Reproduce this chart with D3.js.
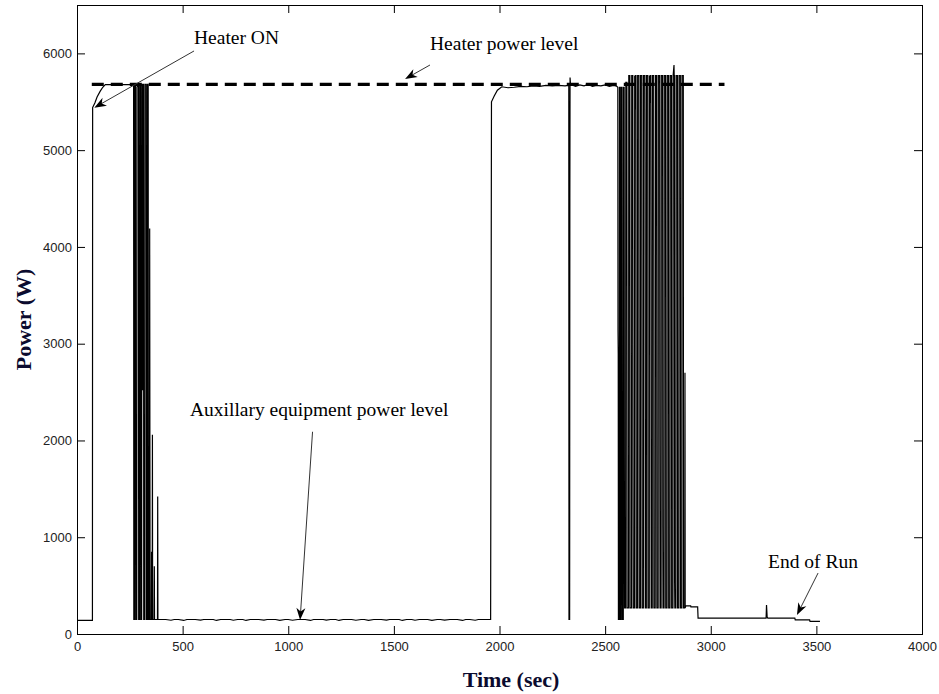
<!DOCTYPE html>
<html><head><meta charset="utf-8">
<script src="https://cdn.jsdelivr.net/npm/d3@7"></script>
<style>body{margin:0;background:#fff}svg{display:block}</style>
</head><body>
<svg id="chart" width="939" height="694"></svg>
<script>
// ---------- DATA ----------
const xTicks = [0,500,1000,1500,2000,2500,3000,3500,4000];
const yTicks = [0,1000,2000,3000,4000,5000,6000];
const xLabel = "Time (sec)";
const yLabel = "Power (W)";

// measured power trace (time in s, power in W)
const time = [
  0,73,74,85,95,110,122,134,268,
  269,272,273,277,278,283,284,291,292,296,297,301,302,306,307,309,310,311,315,316,321,322,328,329,333,334,337,338,343,344,346,352,353,354,356,357,358,365,366,367,381,382,383,
  400,420,445,460,480,505,520,545,560,585,
  600,620,645,660,680,700,725,740,760,785,
  800,820,845,860,885,900,925,940,960,985,
  1000,1020,1045,1060,1080,1105,1120,1140,1165,1180,
  1200,1225,1240,1260,1285,1300,1320,1345,1360,1380,
  1405,1420,1440,1465,1480,1500,1525,1540,1560,1585,
  1600,1620,1645,1660,1680,1705,1720,1740,1765,1780,
  1800,1825,1840,1860,1885,1900,1920,1940,1958,
  1962,1975,1990,2011,2040,2070,2100,2130,2160,2190,2220,2250,2280,2310,2325,2328,2329,2332,2333,2334,2336,
  2360,2380,2400,2420,2440,2460,2480,2500,2520,2540,2555,
  2560,2561,2562,2563,2567,2568,2571,2572,2576,2577,2580,2581,2582,2586,2587,2590,2591,2592,
  2597,2598,2603,2604,2611,2612,2617,2618,2625,2626,2631,2632,2633,2639,2640,2642,2643,2646,2647,
  2653,2654,2660,2661,2667,2668,2674,2675,2681,2682,2688,2689,2690,2695,2696,2702,2703,
  2709,2710,2712,2713,2716,2717,2718,2723,2724,2730,2731,2737,2738,2739,2744,2745,
  2751,2752,2758,2759,2760,2765,2766,2772,2773,2774,2779,2780,2786,2787,2793,2794,2800,2801,
  2807,2808,2814,2815,2821,2822,2826,2827,2828,2829,2830,2835,2836,2842,2843,2849,2850,2856,2857,
  2863,2864,2870,2871,2877,2878,2879,
  2882,2905,2906,2938,2940,3262,3264,3267,3270,3398,3400,3468,3470,3517
];
const power = [
  140,140,5440,5490,5550,5610,5650,5677,5677,
  150,150,5680,5680,150,150,5650,5680,150,150,5680,5680,150,150,5680,5680,2520,5680,5680,150,150,5680,5680,150,150,5680,5680,150,150,4190,150,150,850,150,150,2060,150,150,700,150,150,1420,150,
  150,150,142,150,150,140,150,150,150,143,
  150,150,150,140,150,150,150,142,150,150,
  140,150,150,150,143,150,150,150,140,150,
  150,142,150,150,150,140,150,150,150,143,
  150,150,140,150,150,150,142,150,150,140,
  150,150,150,143,150,150,150,140,150,150,
  142,150,150,150,140,150,150,143,150,150,
  150,140,150,150,142,150,150,150,150,
  5500,5560,5620,5655,5645,5650,5660,5655,5665,5660,5670,5665,5670,5665,5670,5670,150,150,4500,5750,5680,
  5660,5675,5665,5680,5660,5670,5665,5675,5660,5670,5660,
  5650,3140,2900,150,150,5650,5650,150,150,5650,5650,950,150,150,5650,5650,1820,270,
  270,5700,5700,270,270,5770,5770,270,270,5770,5770,1820,270,270,5770,5420,5770,5770,270,
  270,5770,5770,270,270,5770,5770,270,270,5770,5770,4880,270,270,5770,5770,270,
  270,5770,5490,5770,5770,4020,270,270,5770,5770,270,270,2990,5770,5770,270,
  270,5770,5770,1935,270,270,5770,5770,1100,270,270,5770,5770,270,270,5770,5770,270,
  270,5770,5770,270,270,5770,5880,5770,5770,530,270,270,5770,5770,270,270,5770,5770,270,
  270,5770,5770,270,270,2700,270,
  290,290,280,280,165,165,300,175,165,165,145,145,130,130
];

const heaterTime = [70, 3065];
const heaterPower = [5680, 5680];

// annotations: text anchor and arrow tail -> tip, in data units (s, W)
const noteText  = ["Heater ON", "Heater power level", "Auxillary equipment power level", "End of Run"];
const noteAt    = [[554,6097],[1671,6035],[535,2250],[3271,682]];
const arrowFrom = [[554,6025],[1671,5880],[1115,2090],[3508,630]];
const arrowTo   = [[82,5439],[1553,5735],[1056,145],[3408,196]];

// ---------- CHART ----------
const W = 939, H = 694;
const m = {left:77, right:17, top:5, bottom:60};
const svg = d3.select("#chart");
const x = d3.scaleLinear().domain([0,4000]).range([m.left, W-m.right]);
const y = d3.scaleLinear().domain([0,6500]).range([H-m.bottom, m.top]);

const tickFont = "'Liberation Sans', Arial, sans-serif";
function styleAxis(g){
  g.select(".domain").remove();
  g.selectAll(".tick line").attr("stroke","#000").attr("stroke-width",1);
  g.selectAll(".tick text").attr("fill","#222").style("font-family",tickFont).style("font-size","13px");
}
svg.append("g").attr("transform",`translate(0,${y(0)})`)
  .call(d3.axisBottom(x).tickValues(xTicks).tickSize(-8).tickPadding(8).tickFormat(d3.format("d"))).call(styleAxis);
svg.append("g").attr("transform",`translate(0,${y(6500)})`)
  .call(d3.axisTop(x).tickValues(xTicks).tickSize(-8).tickFormat("")).call(styleAxis);
svg.append("g").attr("transform",`translate(${x(0)},0)`)
  .call(d3.axisLeft(y).tickValues(yTicks).tickSize(-8).tickPadding(5).tickFormat(d3.format("d"))).call(styleAxis);
svg.append("g").attr("transform",`translate(${x(4000)},0)`)
  .call(d3.axisRight(y).tickValues(yTicks).tickSize(-8).tickFormat("")).call(styleAxis);

svg.append("rect").attr("x",x(0)).attr("y",y(6500)).attr("width",x(4000)-x(0)).attr("height",y(0)-y(6500))
  .attr("fill","none").attr("stroke","#000").attr("stroke-width",1).attr("shape-rendering","crispEdges");

// heater level dashed line
svg.append("path")
  .attr("d", d3.line().x((d,i)=>x(heaterTime[i])).y((d,i)=>y(heaterPower[i]))(heaterTime))
  .attr("fill","none").attr("stroke","#000").attr("stroke-width",3.2).attr("stroke-dasharray","12,7");

// power trace
const n = Math.min(time.length, power.length);
svg.append("path")
  .attr("d", d3.line().x(i=>x(time[i])).y(i=>y(power[i]))(d3.range(n)))
  .attr("fill","none").attr("stroke","#000").attr("stroke-width",1.2).attr("stroke-linejoin","miter");

// annotations
const noteFont = "'Liberation Serif','Times New Roman',serif";
noteText.forEach((t,i)=>{
  svg.append("text").attr("x",x(noteAt[i][0])).attr("y",y(noteAt[i][1]))
    .attr("font-family",noteFont).attr("font-size","19.5px").attr("fill","#000").text(t);
  const x1=x(arrowFrom[i][0]), y1=y(arrowFrom[i][1]), x2=x(arrowTo[i][0]), y2=y(arrowTo[i][1]);
  const ang=Math.atan2(y2-y1,x2-x1), L=12, Wd=4.5, N=3.5;
  const ux=Math.cos(ang), uy=Math.sin(ang), px=-uy, py=ux;
  svg.append("line").attr("x1",x1).attr("y1",y1).attr("x2",x2-ux*L*0.6).attr("y2",y2-uy*L*0.6)
    .attr("stroke","#333").attr("stroke-width",1);
  const pts=[[x2,y2],[x2-ux*L+px*Wd,y2-uy*L+py*Wd],[x2-ux*(L-N),y2-uy*(L-N)],[x2-ux*L-px*Wd,y2-uy*L-py*Wd]];
  svg.append("path").attr("d","M"+pts.map(p=>p.join(",")).join("L")+"Z").attr("fill","#000");
});

// axis titles
const titleFont = "'Liberation Serif','Times New Roman',serif";
svg.append("text").attr("x",511).attr("y",687).attr("text-anchor","middle")
  .attr("font-family",titleFont).attr("font-weight","bold").attr("font-size","22px").attr("fill","#0b0b2e").text(xLabel);
svg.append("text").attr("transform",`translate(31,${(y(0)+y(6500))/2}) rotate(-90)`).attr("text-anchor","middle")
  .attr("font-family",titleFont).attr("font-weight","bold").attr("font-size","22px").attr("fill","#0b0b2e").text(yLabel);
</script>
</body></html>
